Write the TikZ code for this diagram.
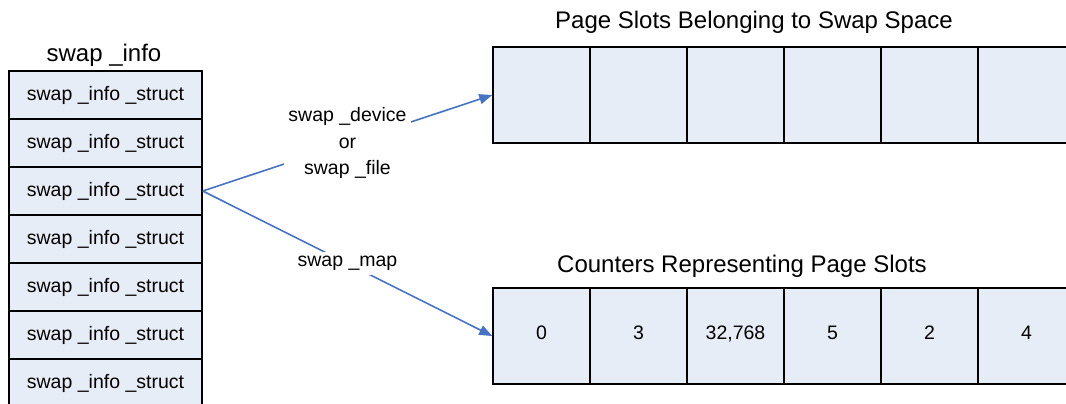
\documentclass[tikz,border=0pt]{standalone}
\usepackage{fontspec}
\setmainfont{Liberation Sans}
\usetikzlibrary{arrows.meta}
\definecolor{cellfill}{HTML}{E7EDF7}
\definecolor{arrowblue}{HTML}{4472C4}
\begin{document}
\begin{tikzpicture}[x=1pt,y=-1pt,
  cell/.style={draw=black, line width=1.5pt, fill=cellfill, inner sep=0pt,
    font=\fontsize{19.5}{22}\selectfont},
  scell/.style={cell, minimum width=193, minimum height=48},
  pcell/.style={cell, minimum width=97, minimum height=96, text height=0.716em, text depth=0pt},
  ttl/.style={inner sep=0pt, font=\fontsize{24}{28}\selectfont},
  conn/.style={draw=arrowblue, line width=1.6pt, -{Triangle[length=13pt,width=10pt]}},
  lbl/.style={fill=white, inner sep=4pt, text=black, align=center,
    font=\fontsize{19.5}{26.5}\selectfont}]
\useasboundingbox (0,0) rectangle (1066,404);
\clip (0,0) rectangle (1066,404);
\node[ttl] (title) at (104,55) {swap \_info};
\foreach \i in {0,...,6}
  \node[scell] (s\i) at (105.5,{95+48*\i}) {swap \_info \_struct};
\node[ttl] (ptitle) at (754,22) {Page Slots Belonging to Swap Space};
\foreach \i in {0,...,5}
  \node[pcell] (p\i) at ({541.5+97*\i},95) {};
\node[ttl] (ctitle) at (742,266) {Counters Representing Page Slots};
\foreach \v [count=\i from 0] in {0,3,{32,768},5,2,4}
  \node[pcell] (c\i) at ({541.5+97*\i},336) {\v};
\draw[conn] (s2.east) -- node[lbl] {swap \_device\\or\\swap \_file} (p0.west);
\draw[conn] (s2.east) -- node[lbl] {swap \_map} (c0.west);
\end{tikzpicture}
\end{document}
